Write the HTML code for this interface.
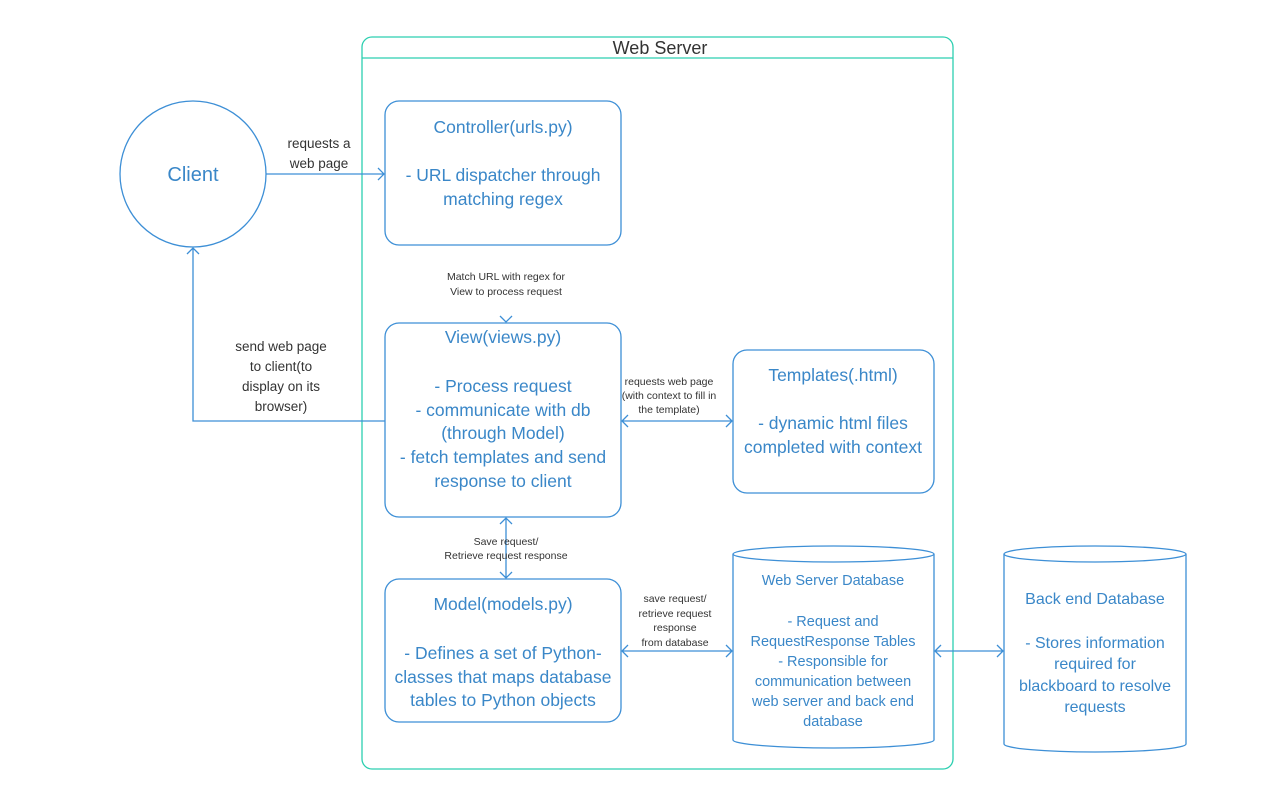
<!DOCTYPE html>
<html><head><meta charset="utf-8"><style>
html,body{margin:0;padding:0;background:#fff;}
svg{display:block;font-family:"Liberation Sans",sans-serif;}
.b{fill:#3a87c8;text-anchor:middle;}
.d{fill:#333;text-anchor:middle;}
</style></head><body>
<svg width="1286" height="796" viewBox="0 0 1286 796" xmlns="http://www.w3.org/2000/svg">
<g fill="none" stroke-width="1.3">
<rect x="362" y="37" width="591" height="732" rx="10" stroke="#2ccfb0"/>
<line x1="362" y1="58" x2="953" y2="58" stroke="#2ccfb0"/>
<g stroke="#3d8fd6">
<circle cx="193" cy="174" r="73"/>
<rect x="385" y="101" width="236" height="144" rx="14"/>
<rect x="385" y="323" width="236" height="194" rx="14"/>
<rect x="733" y="350" width="201" height="143" rx="14"/>
<rect x="385" y="579" width="236" height="143" rx="14"/>
<path d="M733 554 A100.5 8 0 0 1 934 554 L934 740 A100.5 8 0 0 1 733 740 Z"/>
<path d="M733 554 A100.5 8 0 0 0 934 554"/>
<path d="M1004 554 A91 8 0 0 1 1186 554 L1186 744 A91 8 0 0 1 1004 744 Z"/>
<path d="M1004 554 A91 8 0 0 0 1186 554"/>
<!-- arrows -->
<path d="M266 174 H384 M378 168 L384 174 L378 180"/>
<path d="M500 316 L506 322 L512 316"/>
<path d="M385 421 H193 V248 M187 254 L193 248 L199 254"/>
<path d="M622 421 H732 M628 415 L622 421 L628 427 M726 415 L732 421 L726 427"/>
<path d="M506 518 V578 M500 524 L506 518 L512 524 M500 572 L506 578 L512 572"/>
<path d="M622 651 H732 M628 645 L622 651 L628 657 M726 645 L732 651 L726 657"/>
<path d="M935 651 H1003 M941 645 L935 651 L941 657 M997 645 L1003 651 L997 657"/>
</g></g>
<text x="660" y="54" class="d" font-size="18" fill="#333">Web Server</text>
<text x="193" y="181" class="b" font-size="20">Client</text>
<g class="d" font-size="13.5"><text x="319" y="148">requests a</text><text x="319" y="168">web page</text>
<text x="281" y="351">send web page</text><text x="281" y="371">to client(to</text><text x="281" y="391">display on its</text><text x="281" y="411">browser)</text></g>
<g class="d" font-size="10.5">
<text x="506" y="280">Match URL with regex for</text><text x="506" y="295">View to process request</text>
<text x="669" y="385">requests web page</text><text x="669" y="399">(with context to fill in</text><text x="669" y="413">the template)</text>
<text x="506" y="545">Save request/</text><text x="506" y="559">Retrieve request response</text>
<text x="675" y="602">save request/</text><text x="675" y="617">retrieve request</text><text x="675" y="631">response</text><text x="675" y="646">from database</text></g>
<g class="b" font-size="17.5">
<text x="503" y="133">Controller(urls.py)</text>
<text x="503" y="181">- URL dispatcher through</text><text x="503" y="205">matching regex</text>
<text x="503" y="343">View(views.py)</text>
<text x="503" y="392">- Process request</text><text x="503" y="416">- communicate with db</text><text x="503" y="439">(through Model)</text><text x="503" y="463">- fetch templates and send</text><text x="503" y="487">response to client</text>
<text x="833" y="381">Templates(.html)</text>
<text x="833" y="429">- dynamic html files</text><text x="833" y="453">completed with context</text>
<text x="503" y="610">Model(models.py)</text>
<text x="503" y="659">- Defines a set of Python-</text><text x="503" y="683">classes that maps database</text><text x="503" y="706">tables to Python objects</text>
</g>
<g class="b" font-size="14.5">
<text x="833" y="585">Web Server Database</text>
<text x="833" y="626">- Request and</text><text x="833" y="646">RequestResponse Tables</text><text x="833" y="666">- Responsible for</text><text x="833" y="686">communication between</text><text x="833" y="706">web server and back end</text><text x="833" y="726">database</text>
</g>
<g class="b" font-size="16">
<text x="1095" y="604">Back end Database</text>
<text x="1095" y="648">- Stores information</text><text x="1095" y="669">required for</text><text x="1095" y="691">blackboard to resolve</text><text x="1095" y="712">requests</text>
</g>
</svg>
</body></html>
